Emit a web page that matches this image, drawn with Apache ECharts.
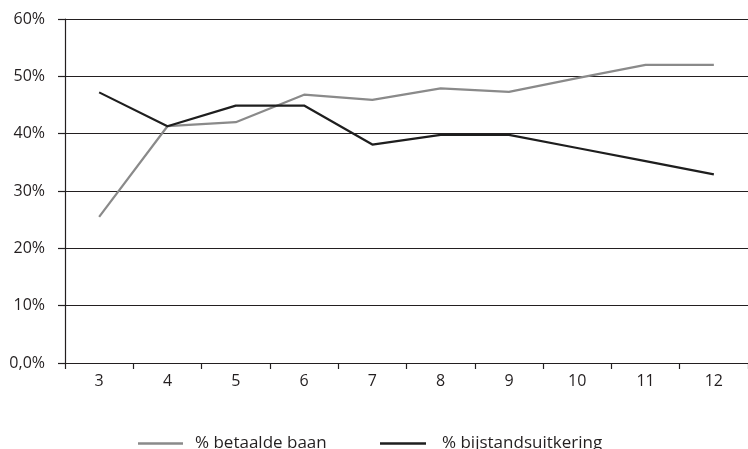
<!DOCTYPE html>
<html>
<head>
<meta charset="utf-8">
<script src="https://cdn.jsdelivr.net/npm/echarts@6/dist/echarts.min.js"></script>
<style>html,body{margin:0;padding:0;background:#fff;}#c{width:748px;height:449px;}</style>
</head>
<body>
<div id="c"></div>
<script>
var categories = ['3','4','5','6','7','8','9','10','11','12'];
var betaaldeBaan = [25.5, 41.3, 42.0, 46.8, 45.9, 47.9, 47.3, 49.7, 52.0, 52.0];
var bijstand = [47.2, 41.3, 44.9, 44.9, 38.1, 39.8, 39.8, 37.5, 35.2, 32.9];
var seriesNames = ['% betaalde baan', '% bijstandsuitkering'];
var yTicks = [0, 10, 20, 30, 40, 50, 60];

var font = 'Open Sans';
var fs = 16;
var chart = echarts.init(document.getElementById('c'));
chart.setOption({
  animation: false,
  backgroundColor: '#fff',
  grid: { left: 65, top: 19, width: 688, height: 344, containLabel: false },
  legend: [
    { data: [seriesNames[0]], left: 133, top: 430, icon: 'rect', itemWidth: 45, itemHeight: 2.5,
      textStyle: { fontFamily: font, fontSize: 17, color: '#231f20', padding: [0,0,0,7] } },
    { data: [seriesNames[1]], left: 375, top: 430, icon: 'rect', itemWidth: 46, itemHeight: 2.5,
      textStyle: { fontFamily: font, fontSize: 17, color: '#231f20', padding: [0,0,0,11] } }
  ],
  xAxis: {
    type: 'category',
    data: categories,
    boundaryGap: true,
    axisLine: { lineStyle: { color: '#231f20', width: 1.2 } },
    axisTick: { show: true, length: 6, lineStyle: { color: '#231f20', width: 1.2 } },
    axisLabel: { fontFamily: font, fontSize: fs, color: '#231f20', margin: 10 }
  },
  yAxis: {
    type: 'value',
    min: 0, max: 60, interval: 10,
    axisLine: { show: true, lineStyle: { color: '#231f20', width: 1.2 } },
    axisTick: { show: true, length: 7, lineStyle: { color: '#231f20', width: 1.2 } },
    splitLine: { lineStyle: { color: '#231f20', width: 1.2 } },
    axisLabel: { fontFamily: font, fontSize: fs, color: '#231f20', margin: 20,
      formatter: function (v) { return v === yTicks[0] ? '0,0%' : v + '%'; } }
  },
  series: [
    { name: seriesNames[0], type: 'line', data: betaaldeBaan, symbol: 'none',
      lineStyle: { color: '#8a8a8a', width: 2.2 }, itemStyle: { color: '#8a8a8a' } },
    { name: seriesNames[1], type: 'line', data: bijstand, symbol: 'none',
      lineStyle: { color: '#1e1e1e', width: 2.2 }, itemStyle: { color: '#1e1e1e' } }
  ]
});
</script>
</body>
</html>
